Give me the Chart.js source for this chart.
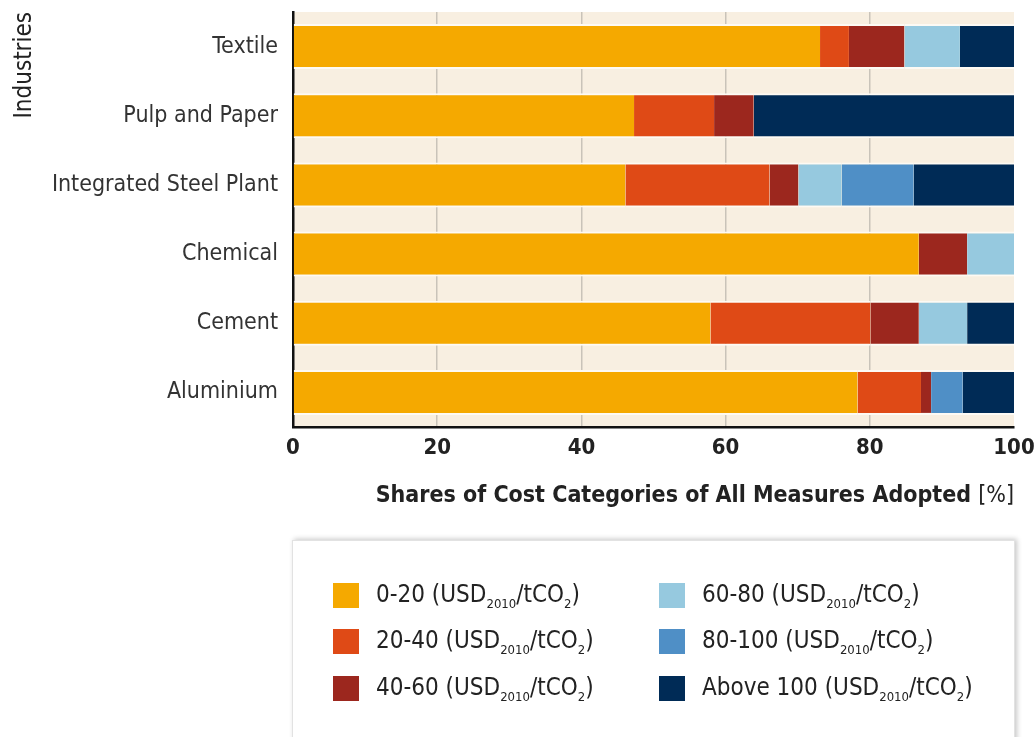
<!DOCTYPE html>
<html>
<head>
<meta charset="utf-8">
<script src="https://cdn.jsdelivr.net/npm/chart.js@4.4.1/dist/chart.umd.min.js"></script>
<style>
  body { margin: 0; background: #fff; }
  #wrap { position: relative; width: 1035px; height: 737px; overflow: hidden; }
  #legendBox {
    position: absolute; left: 292px; top: 540px; width: 721px; height: 240px;
    background: #fff; border: 1px solid #e2e2e2;
    box-shadow: 2px -1px 5px rgba(0,0,0,0.22);
    font-family: "Liberation Sans Narrow", "DejaVu Sans Condensed", sans-serif; font-size: 24px; color: #222;
  }
  .item { position: absolute; display: flex; align-items: center; white-space: nowrap; }
  .item .sw { width: 26px; height: 25px; margin-right: 17px; }
  .item sub { font-size: 13px; vertical-align: -6px; }
</style>
</head>
<body>
<div id="wrap">
  <canvas id="costChart" width="1035" height="737"></canvas>
  <div id="legendBox"></div>
</div>
<script>
// categories and values (% of measures adopted)
const industries = ['Textile', 'Pulp and Paper', 'Integrated Steel Plant', 'Chemical', 'Cement', 'Aluminium'];
const costCategories = ['0-20', '20-40', '40-60', '60-80', '80-100', 'Above 100'];

const share0to20 = [73.1, 47.3, 46.1, 86.8, 57.9, 78.3];
const share20to40 = [4.0, 11.1, 20.0, 0, 22.2, 8.8];
const share40to60 = [7.7, 5.5, 4.0, 6.7, 6.7, 1.4];
const share60to80 = [7.7, 0, 6.0, 6.5, 6.7, 0];
const share80to100 = [0, 0, 10.0, 0, 0, 4.4];
const shareAbove100 = [7.5, 36.1, 13.9, 0, 6.5, 7.1];

const xTicks = [0, 20, 40, 60, 80, 100];

const seriesColors = ['#f5a900', '#df4a16', '#9c271e', '#96c9df', '#4f8fc6', '#002b56'];
const allShares = [share0to20, share20to40, share40to60, share60to80, share80to100, shareAbove100];

const narrow = '"Liberation Sans Narrow", "DejaVu Sans Condensed", sans-serif';

// cream plot background
const plotBackground = {
    id: 'plotBackground',
    beforeDraw(chart) {
        const { ctx, chartArea } = chart;
        ctx.save();
        ctx.fillStyle = '#f8efe1';
        ctx.fillRect(chartArea.left, chartArea.top, chartArea.right - chartArea.left, chartArea.bottom - chartArea.top);
        ctx.restore();
    }
};

// x axis title: bold text followed by a normal "[%]"
const xTitle = {
    id: 'xTitle',
    afterDraw(chart) {
        const { ctx, chartArea } = chart;
        const boldPart = 'Shares of Cost Categories of All Measures Adopted ';
        const normalPart = '[%]';
        ctx.save();
        ctx.fillStyle = '#222';
        ctx.textBaseline = 'middle';
        ctx.font = 'normal 23px ' + narrow;
        const wNormal = ctx.measureText(normalPart).width;
        ctx.font = 'bold 23px ' + narrow;
        const wBold = ctx.measureText(boldPart).width;
        const x0 = chartArea.right - wNormal - wBold;
        ctx.textAlign = 'left';
        ctx.fillText(boldPart, x0, 496);
        ctx.font = 'normal 23px ' + narrow;
        ctx.fillText(normalPart, x0 + wBold, 496);
        ctx.restore();
    }
};

const ctx = document.getElementById('costChart').getContext('2d');
const costChart = new Chart(ctx, {
    type: 'bar',
    data: {
        labels: industries,
        datasets: costCategories.map((name, i) => ({
            label: name,
            data: allShares[i],
            backgroundColor: seriesColors[i],
            borderColor: '#fdfaf4',
            borderWidth: { top: 2, bottom: 2, left: 0, right: 0 },
            borderSkipped: false,
            barPercentage: 0.65,
            categoryPercentage: 1
        }))
    },
    options: {
        indexAxis: 'y',
        responsive: false,
        animation: false,
        layout: { padding: { top: 12, right: 21, bottom: 200, left: 0 } },
        scales: {
            x: {
                stacked: true,
                min: 0,
                max: 100,
                afterBuildTicks: scale => { scale.ticks = xTicks.map(v => ({ value: v })); },
                afterFit: scale => {
                    scale.height = 110;
                    scale.paddingLeft = 0;
                    scale.paddingRight = 0;
                },
                grid: {
                    drawTicks: false,
                    color: ctx => (ctx.tick && ctx.tick.value > 0 && ctx.tick.value < 100) ? '#c9c3b9' : 'rgba(0,0,0,0)',
                    lineWidth: 1.5
                },
                border: { color: '#111', width: 2.5 },
                ticks: {
                    padding: 8,
                    color: '#222',
                    font: { family: narrow, size: 22, weight: 'bold' }
                }
            },
            y: {
                stacked: true,
                afterFit: scale => {
                    scale.width = 293;
                    scale.paddingTop = 0;
                    scale.paddingBottom = 0;
                },
                grid: { display: false, drawTicks: false },
                border: { color: '#111', width: 2.5 },
                ticks: {
                    padding: 15,
                    color: '#333',
                    font: { family: narrow, size: 23 }
                },
                title: {
                    display: true,
                    text: 'Industries',
                    align: 'end',
                    color: '#222',
                    padding: { top: 10, bottom: 0 },
                    font: { family: narrow, size: 24 }
                }
            }
        },
        plugins: {
            legend: { display: false },
            tooltip: { enabled: false }
        }
    },
    plugins: [plotBackground, xTitle]
});

// legend with subscripts, built from the chart datasets
function buildLegend(chart) {
    const box = document.getElementById('legendBox');
    const colX = [40, 366];
    const rowY = [55, 101, 148];
    chart.data.datasets.forEach((ds, i) => {
        const item = document.createElement('div');
        item.className = 'item';
        item.style.left = colX[Math.floor(i / 3)] + 'px';
        item.style.top = (rowY[i % 3] - 16) + 'px';
        item.innerHTML = '<span class="sw" style="background:' + ds.backgroundColor + '"></span>' +
            '<span>' + ds.label + ' (USD<sub>2010</sub>/tCO<sub>2</sub>)</span>';
        box.appendChild(item);
    });
}
buildLegend(costChart);
</script>
</body>
</html>
